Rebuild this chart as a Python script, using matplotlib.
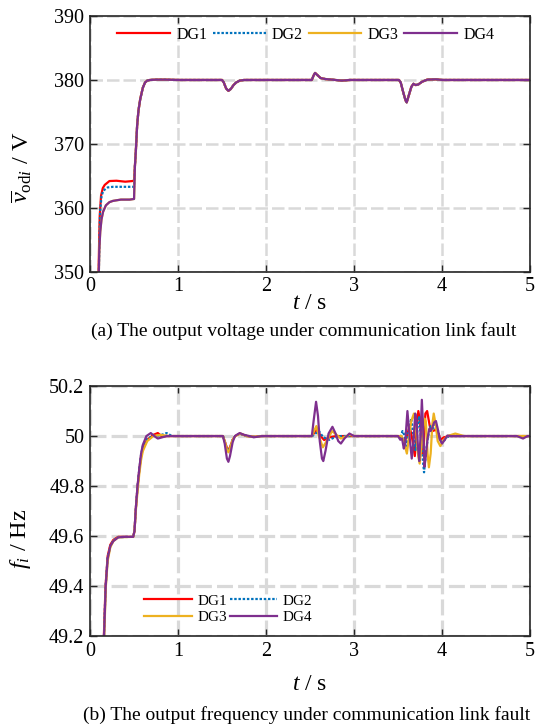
import matplotlib
matplotlib.use('Agg')
import matplotlib.pyplot as plt
import numpy as np

plt.rcParams['font.family'] = ['Liberation Serif', 'DejaVu Serif']
plt.rcParams['mathtext.fontset'] = 'custom'
plt.rcParams['mathtext.rm'] = 'Liberation Serif'
plt.rcParams['mathtext.it'] = 'Liberation Serif:italic'

names = ['DG1', 'DG2', 'DG3', 'DG4']
colors = ['#ff0000', '#0072bd', '#edb120', '#7e2f8e']
styles = ['-', (0, (1.1, 0.8)), '-', '-']

# ---- (a) voltage: start-up part per DG, then common part (all DGs overlap)
t_v1_start = [0.093, 0.097, 0.103, 0.11, 0.125, 0.145, 0.167, 0.22, 0.30, 0.40, 0.48, 0.50]
v1_start = [345, 350, 354.5, 358.8, 361.9, 363.1, 363.6, 364.2, 364.25, 364.1, 364.2, 364.3]
t_v2_start = [0.095, 0.10, 0.107, 0.115, 0.13, 0.15, 0.20, 0.26, 0.40, 0.50]
v2_start = [345, 350, 355.0, 359.5, 361.8, 362.7, 363.2, 363.3, 363.3, 363.3]
t_v34_start = [0.095, 0.10, 0.105, 0.116, 0.13, 0.148, 0.18, 0.22, 0.26, 0.35, 0.45, 0.50]
v34_start = [345, 350, 353.5, 356.3, 358.2, 359.4, 360.4, 360.9, 361.1, 361.3, 361.3, 361.4]

t_v_common = [0.51, 0.52, 0.535, 0.55, 0.57, 0.60, 0.625, 0.65, 0.68, 0.75, 0.85, 1.0,
              1.50, 1.52, 1.545, 1.572, 1.60, 1.63, 1.66, 1.70, 1.75,
              2.52, 2.54, 2.557, 2.58, 2.62, 2.67, 2.75, 2.86, 2.95,
              3.51, 3.53, 3.56, 3.585, 3.598, 3.62, 3.65, 3.674, 3.70, 3.73, 3.77, 3.83, 3.93, 4.0, 5.0]
v_common = [366.6, 368.8, 372.9, 375.2, 377.0, 378.8, 379.6, 379.9, 380.0, 380.05, 380.05, 380.0,
            380.0, 379.6, 378.7, 378.3, 378.6, 379.2, 379.6, 379.9, 380.0,
            380.0, 380.7, 381.1, 380.8, 380.3, 380.15, 380.05, 379.9, 380.0,
            380.0, 379.6, 378.0, 376.8, 376.5, 377.5, 378.9, 379.4, 379.2, 379.3, 379.7, 380.05, 380.1, 380.0, 380.0]

# ---- (b) frequency
t_f1 = [0.148, 0.157, 0.176, 0.20, 0.23, 0.265, 0.32, 0.49, 0.505, 0.52, 0.54, 0.56, 0.58, 0.60, 0.65,
        0.72, 0.77, 0.82, 0.87, 1.51, 1.53, 1.555, 1.572, 1.59, 1.62, 1.65, 1.70, 1.78, 1.86, 1.95,
        2.52, 2.58, 2.62, 2.66, 2.72, 2.80,
        3.50, 3.54, 3.57, 3.60, 3.63, 3.66, 3.69, 3.71, 3.73, 3.75, 3.77, 3.79, 3.81, 3.83, 3.86,
        3.89, 3.93, 3.96, 3.98, 4.02, 4.08, 5.0]
f1 = [49.1, 49.2, 49.4, 49.52, 49.565, 49.585, 49.597, 49.597, 49.62, 49.71, 49.80, 49.865, 49.92, 49.95, 49.985,
      50.005, 50.012, 49.998, 50.0, 50.0, 49.98, 49.952, 49.945, 49.955, 49.985, 50.0, 50.01, 50.0, 49.997, 50.0,
      50.0, 50.027, 50.0, 49.984, 49.995, 50.0,
      50.0, 49.995, 49.975, 50.0, 50.04, 49.99, 49.92, 50.03, 50.10, 50.06, 49.93, 49.96, 50.09, 50.10, 50.04,
      50.02, 50.025, 50.01, 49.985, 49.995, 50.0, 50.0]

t_f2 = [0.15, 0.158, 0.177, 0.20, 0.23, 0.265, 0.32, 0.49, 0.505, 0.52, 0.54, 0.56, 0.58, 0.60, 0.65,
        0.72, 0.80, 0.87, 0.93, 1.51, 1.53, 1.555, 1.572, 1.59, 1.62, 1.65, 1.70, 1.78, 1.86, 1.95,
        2.525, 2.60, 2.65, 2.72, 2.78, 2.85,
        3.50, 3.525, 3.55, 3.57, 3.59, 3.62, 3.65, 3.675, 3.70, 3.725, 3.74, 3.77, 3.795, 3.815, 3.84,
        3.87, 3.90, 3.93, 3.955, 3.98, 4.01, 4.05, 4.1, 5.0]
f2 = [49.1, 49.2, 49.4, 49.515, 49.56, 49.583, 49.596, 49.597, 49.62, 49.71, 49.80, 49.87, 49.925, 49.96, 49.99,
      50.0, 50.003, 50.012, 50.0, 50.0, 49.98, 49.95, 49.94, 49.952, 49.985, 50.0, 50.01, 50.0, 49.997, 50.0,
      50.0, 50.02, 49.995, 49.985, 49.995, 50.0,
      50.0, 49.99, 50.02, 50.005, 49.96, 50.02, 50.07, 50.0, 49.94, 50.05, 50.08, 49.95, 49.855, 49.93, 50.0,
      50.04, 50.03, 50.05, 50.02, 49.98, 49.975, 49.995, 50.0, 50.0]

t_f3 = [0.152, 0.161, 0.18, 0.20, 0.23, 0.265, 0.32, 0.49, 0.505, 0.52, 0.54, 0.56, 0.58, 0.60, 0.65,
        0.72, 0.80, 0.90, 1.51, 1.53, 1.555, 1.572, 1.59, 1.62, 1.65, 1.71, 1.78, 1.86, 1.95,
        2.52, 2.545, 2.572, 2.60, 2.645, 2.68, 2.75, 2.85, 2.95, 3.0,
        3.50, 3.54, 3.57, 3.60, 3.625, 3.65, 3.68, 3.70, 3.725, 3.745, 3.77, 3.80, 3.815, 3.835, 3.85,
        3.87, 3.89, 3.905, 3.925, 3.95, 3.98, 4.02, 4.06, 4.15, 4.25, 5.0]
f3 = [49.1, 49.2, 49.4, 49.50, 49.555, 49.58, 49.595, 49.597, 49.62, 49.70, 49.78, 49.85, 49.905, 49.94, 49.98,
      50.0, 50.005, 50.0, 50.0, 49.98, 49.945, 49.935, 49.95, 49.985, 50.0, 50.01, 50.0, 49.997, 50.0,
      50.0, 50.02, 50.04, 50.0, 49.955, 49.975, 50.02, 49.99, 50.005, 50.0,
      50.0, 50.0, 49.97, 49.93, 50.0, 50.06, 50.09, 50.05, 49.93, 49.89, 49.97, 50.07, 50.06, 49.93, 49.875,
      49.93, 50.05, 50.09, 50.05, 49.98, 49.96, 49.985, 50.0, 50.01, 50.0, 50.0]

t_f4 = [0.150, 0.159, 0.178, 0.20, 0.23, 0.265, 0.32, 0.40, 0.49, 0.505, 0.52, 0.54, 0.56, 0.58, 0.60,
        0.64, 0.69, 0.73, 0.77, 0.82, 0.87, 1.51, 1.53, 1.555, 1.572, 1.59, 1.62, 1.645, 1.70, 1.75, 1.81,
        1.86, 1.95, 2.52, 2.54, 2.568, 2.59, 2.61, 2.635, 2.65, 2.675, 2.71, 2.754, 2.79, 2.82, 2.85, 2.89,
        2.947, 3.0, 3.50, 3.525, 3.545, 3.565, 3.58, 3.606, 3.63, 3.655, 3.675, 3.695, 3.71, 3.725, 3.74,
        3.755, 3.77, 3.785, 3.80, 3.815, 3.835, 3.855, 3.87, 3.885, 3.91, 3.93, 3.95, 3.975, 4.0, 4.03,
        4.06, 4.1, 4.85, 4.92, 4.97, 5.0]
f4 = [49.1, 49.2, 49.4, 49.51, 49.56, 49.58, 49.595, 49.597, 49.597, 49.62, 49.71, 49.80, 49.87, 49.93, 49.965,
      50.0, 50.012, 50.0, 49.99, 49.995, 50.0, 50.0, 49.97, 49.91, 49.897, 49.92, 49.975, 50.0, 50.012, 50.005, 50.0,
      49.995, 50.0, 50.0, 50.06, 50.137, 50.08, 49.98, 49.91, 49.90, 49.94, 50.01, 50.037, 50.01, 49.98, 49.97, 49.99,
      50.01, 50.0, 50.0, 49.985, 49.99, 49.95, 49.97, 50.10, 50.0, 49.91, 49.98, 50.09, 50.06, 49.96, 49.90,
      50.0, 50.145, 50.03, 49.877, 49.92, 49.99, 50.03, 50.02, 50.03, 50.055, 50.06, 50.03, 49.985, 49.97, 49.985,
      50.002, 50.0, 50.0, 49.99, 50.0, 50.0]

x_ticks = [0, 1, 2, 3, 4, 5]
v_ticks = [350, 360, 370, 380, 390]
f_ticks = [49.2, 49.4, 49.6, 49.8, 50.0, 50.2]
f_ticklabels = ['49.2', '49.4', '49.6', '49.8', '50', '50.2']

fig = plt.figure(figsize=(5.36, 7.27), dpi=100)
ax1 = fig.add_axes([0.168, 0.626, 0.821, 0.352])
ax2 = fig.add_axes([0.168, 0.125, 0.821, 0.344])

v_starts = [(t_v1_start, v1_start), (t_v2_start, v2_start), (t_v34_start, v34_start), (t_v34_start, v34_start)]
lines1 = []
for i in range(4):
    ts, vs = v_starts[i]
    ln, = ax1.plot(ts + t_v_common, vs + v_common, color=colors[i], linestyle=styles[i], lw=1.6, label=names[i])
    lines1.append(ln)

f_series = [(t_f1, f1), (t_f2, f2), (t_f3, f3), (t_f4, f4)]
lines2 = []
for i in range(4):
    ts, fs = f_series[i]
    ln, = ax2.plot(ts, fs, color=colors[i], linestyle=styles[i], lw=1.6, label=names[i])
    lines2.append(ln)

for ax, gw in [(ax1, 1.8), (ax2, 2.3)]:
    ax.set_xlim(0, 5)
    ax.set_xticks(x_ticks)
    ax.grid(True, color='#d9d9d9', lw=gw, linestyle=(0, (5, 1.6)))
    ax.set_axisbelow(True)
    ax.tick_params(direction='in', top=True, right=True, length=5, width=1.0,
                   labelsize=14.5, pad=4, colors='#262626')
    for sp in ax.spines.values():
        sp.set_color('#262626')
        sp.set_linewidth(1.2)
    ax.set_xticklabels([str(x) for x in x_ticks], color='black')

ax1.set_ylim(350, 390)
ax1.set_yticks(v_ticks)
ax1.set_yticklabels([str(v) for v in v_ticks], color='black')
ax2.set_ylim(49.2, 50.2)
ax2.set_yticks(f_ticks)
ax2.set_yticklabels(f_ticklabels, color='black')

ax1.set_ylabel(r'$\overline{v}_{\mathrm{od}i}$ / V', fontsize=17.5)
ax1.yaxis.set_label_coords(-0.128, 0.41)
ax1.set_xlabel(r'$t$ / s', fontsize=17)
ax1.xaxis.set_label_coords(0.5, -0.082)
ax2.set_ylabel(r'$f_i$ / Hz', fontsize=17.5)
ax2.yaxis.set_label_coords(-0.13, 0.39)
ax2.set_xlabel(r'$t$ / s', fontsize=17)
ax2.xaxis.set_label_coords(0.5, -0.152)

ax1.legend(handles=lines1, loc='center', bbox_to_anchor=(0.49, 0.926), ncol=4, frameon=False, fontsize=11.5,
           handlelength=3.3, handletextpad=0.4, columnspacing=0.35, borderpad=0.1)
order = [0, 2, 1, 3]
ax2.legend(handles=[lines2[k] for k in order], loc='center', bbox_to_anchor=(0.314, 0.108), ncol=2,
           frameon=False, fontsize=11, handlelength=3.1, handletextpad=0.35, columnspacing=0.2,
           labelspacing=0.2, borderpad=0.1)

fig.text(0.566, 1 - 331 / 727, '(a) The output voltage under communication link fault',
         ha='center', va='center', fontsize=14)
fig.text(0.572, 1 - 715 / 727, '(b) The output frequency under communication link fault',
         ha='center', va='center', fontsize=14)

fig.savefig('out.png', dpi=100)
